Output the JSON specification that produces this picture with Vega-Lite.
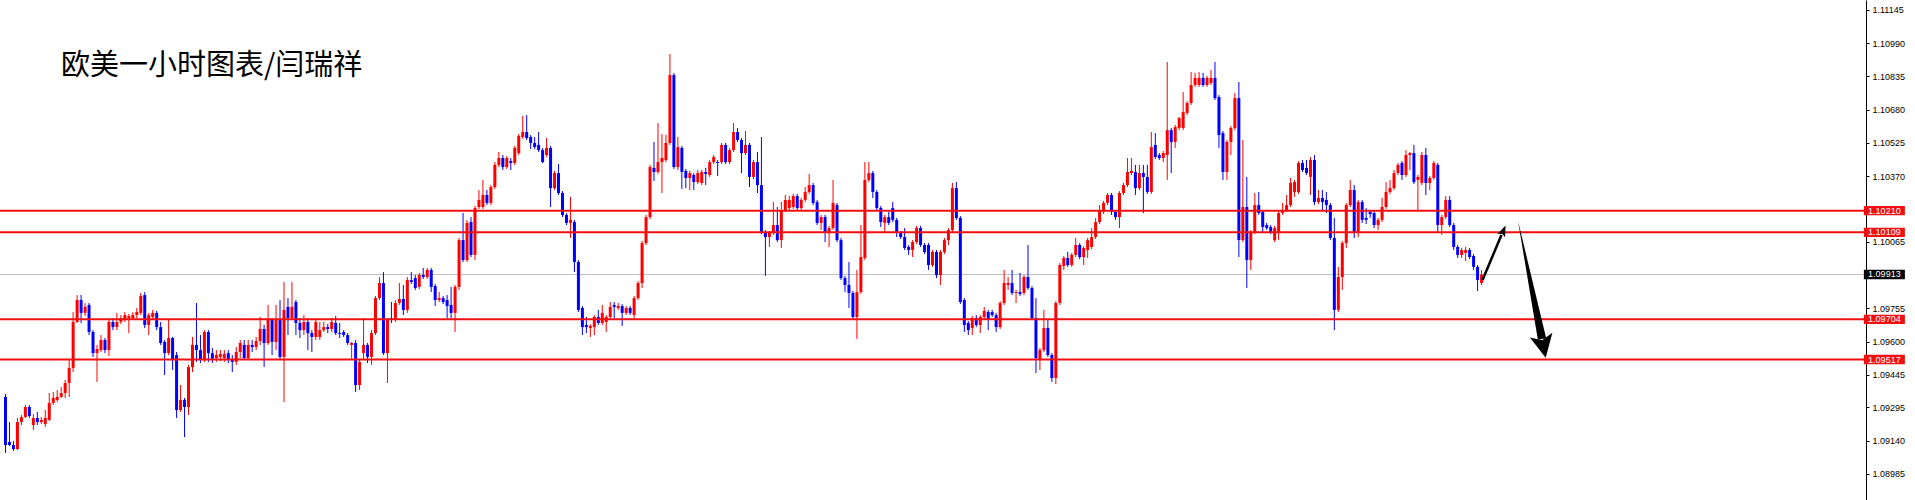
{
"$schema":"https://vega.github.io/schema/vega-lite/v6.json",
"width":1866,"height":500,
"autosize":{"type":"none"},
"padding":{"left":0,"top":0,"right":49,"bottom":0},
"background":"white",
"config":{"view":{"stroke":null}},
"title":{"text":"欧美一小时图表/闫瑞祥","anchor":"start","frame":"group","orient":"top","offset":0,"dx":61,"dy":104,"baseline":"alphabetic","font":"Noto Sans CJK SC","fontSize":29,"fontWeight":"normal","color":"#000000"},
"resolve":{"axis":{"y":"independent"}},
"datasets":{
"candles":[
{"i":0,"o":1.09343,"h":1.09357,"l":1.09082,"c":1.09119},
{"i":1,"o":1.09133,"h":1.09226,"l":1.09114,"c":1.09119},
{"i":2,"o":1.09119,"h":1.09138,"l":1.09091,"c":1.09100},
{"i":3,"o":1.09100,"h":1.09245,"l":1.09096,"c":1.09226},
{"i":4,"o":1.09226,"h":1.09259,"l":1.09212,"c":1.09249},
{"i":5,"o":1.09249,"h":1.09305,"l":1.09245,"c":1.09296},
{"i":6,"o":1.09296,"h":1.09305,"l":1.09245,"c":1.09254},
{"i":7,"o":1.09212,"h":1.09263,"l":1.09189,"c":1.09245},
{"i":8,"o":1.09245,"h":1.09273,"l":1.09212,"c":1.09226},
{"i":9,"o":1.09226,"h":1.09249,"l":1.09217,"c":1.09236},
{"i":10,"o":1.09217,"h":1.09282,"l":1.09203,"c":1.09245},
{"i":11,"o":1.09236,"h":1.09361,"l":1.09231,"c":1.09315},
{"i":12,"o":1.09315,"h":1.09366,"l":1.09305,"c":1.09338},
{"i":13,"o":1.09329,"h":1.09375,"l":1.09319,"c":1.09343},
{"i":14,"o":1.09343,"h":1.09389,"l":1.09338,"c":1.09361},
{"i":15,"o":1.09361,"h":1.09422,"l":1.09338,"c":1.09408},
{"i":16,"o":1.09408,"h":1.09515,"l":1.09343,"c":1.09478},
{"i":17,"o":1.09478,"h":1.09738,"l":1.09459,"c":1.09692},
{"i":18,"o":1.09692,"h":1.09817,"l":1.09687,"c":1.09794},
{"i":19,"o":1.09794,"h":1.09817,"l":1.09687,"c":1.09734},
{"i":20,"o":1.09734,"h":1.09780,"l":1.09720,"c":1.09762},
{"i":21,"o":1.09771,"h":1.09780,"l":1.09631,"c":1.09645},
{"i":22,"o":1.09645,"h":1.09654,"l":1.09529,"c":1.09547},
{"i":23,"o":1.09547,"h":1.09585,"l":1.09413,"c":1.09566},
{"i":24,"o":1.09561,"h":1.09631,"l":1.09552,"c":1.09608},
{"i":25,"o":1.09608,"h":1.09617,"l":1.09547,"c":1.09561},
{"i":26,"o":1.09561,"h":1.09701,"l":1.09533,"c":1.09692},
{"i":27,"o":1.09692,"h":1.09710,"l":1.09654,"c":1.09668},
{"i":28,"o":1.09668,"h":1.09734,"l":1.09654,"c":1.09692},
{"i":29,"o":1.09692,"h":1.09724,"l":1.09682,"c":1.09710},
{"i":30,"o":1.09701,"h":1.09738,"l":1.09692,"c":1.09724},
{"i":31,"o":1.09710,"h":1.09729,"l":1.09640,"c":1.09720},
{"i":32,"o":1.09710,"h":1.09738,"l":1.09701,"c":1.09724},
{"i":33,"o":1.09724,"h":1.09757,"l":1.09710,"c":1.09738},
{"i":34,"o":1.09734,"h":1.09827,"l":1.09724,"c":1.09813},
{"i":35,"o":1.09817,"h":1.09831,"l":1.09664,"c":1.09678},
{"i":36,"o":1.09678,"h":1.09734,"l":1.09631,"c":1.09724},
{"i":37,"o":1.09715,"h":1.09748,"l":1.09701,"c":1.09734},
{"i":38,"o":1.09734,"h":1.09743,"l":1.09654,"c":1.09668},
{"i":39,"o":1.09668,"h":1.09692,"l":1.09585,"c":1.09594},
{"i":40,"o":1.09599,"h":1.09608,"l":1.09445,"c":1.09547},
{"i":41,"o":1.09547,"h":1.09701,"l":1.09538,"c":1.09617},
{"i":42,"o":1.09617,"h":1.09622,"l":1.09468,"c":1.09515},
{"i":43,"o":1.09538,"h":1.09552,"l":1.09245,"c":1.09282},
{"i":44,"o":1.09282,"h":1.09398,"l":1.09273,"c":1.09329},
{"i":45,"o":1.09329,"h":1.09338,"l":1.09156,"c":1.09296},
{"i":46,"o":1.09296,"h":1.09492,"l":1.09259,"c":1.09482},
{"i":47,"o":1.09482,"h":1.09622,"l":1.09459,"c":1.09585},
{"i":48,"o":1.09585,"h":1.09780,"l":1.09506,"c":1.09561},
{"i":49,"o":1.09561,"h":1.09631,"l":1.09501,"c":1.09515},
{"i":50,"o":1.09515,"h":1.09654,"l":1.09506,"c":1.09645},
{"i":51,"o":1.09645,"h":1.09654,"l":1.09506,"c":1.09547},
{"i":52,"o":1.09547,"h":1.09571,"l":1.09501,"c":1.09519},
{"i":53,"o":1.09524,"h":1.09561,"l":1.09506,"c":1.09538},
{"i":54,"o":1.09529,"h":1.09561,"l":1.09510,"c":1.09543},
{"i":55,"o":1.09524,"h":1.09561,"l":1.09506,"c":1.09543},
{"i":56,"o":1.09547,"h":1.09561,"l":1.09501,"c":1.09515},
{"i":57,"o":1.09515,"h":1.09538,"l":1.09459,"c":1.09506},
{"i":58,"o":1.09506,"h":1.09575,"l":1.09492,"c":1.09552},
{"i":59,"o":1.09552,"h":1.09608,"l":1.09524,"c":1.09594},
{"i":60,"o":1.09585,"h":1.09608,"l":1.09515,"c":1.09524},
{"i":61,"o":1.09524,"h":1.09608,"l":1.09515,"c":1.09585},
{"i":62,"o":1.09585,"h":1.09608,"l":1.09552,"c":1.09575},
{"i":63,"o":1.09575,"h":1.09622,"l":1.09561,"c":1.09603},
{"i":64,"o":1.09603,"h":1.09715,"l":1.09585,"c":1.09659},
{"i":65,"o":1.09659,"h":1.09678,"l":1.09482,"c":1.09594},
{"i":66,"o":1.09594,"h":1.09771,"l":1.09585,"c":1.09701},
{"i":67,"o":1.09701,"h":1.09710,"l":1.09538,"c":1.09599},
{"i":68,"o":1.09599,"h":1.09771,"l":1.09561,"c":1.09701},
{"i":69,"o":1.09701,"h":1.09794,"l":1.09515,"c":1.09529},
{"i":70,"o":1.09529,"h":1.09878,"l":1.09319,"c":1.09748},
{"i":71,"o":1.09762,"h":1.09803,"l":1.09631,"c":1.09710},
{"i":72,"o":1.09710,"h":1.09878,"l":1.09701,"c":1.09762},
{"i":73,"o":1.09785,"h":1.09794,"l":1.09631,"c":1.09687},
{"i":74,"o":1.09687,"h":1.09710,"l":1.09617,"c":1.09654},
{"i":75,"o":1.09654,"h":1.09724,"l":1.09631,"c":1.09692},
{"i":76,"o":1.09692,"h":1.09710,"l":1.09561,"c":1.09640},
{"i":77,"o":1.09640,"h":1.09654,"l":1.09552,"c":1.09622},
{"i":78,"o":1.09622,"h":1.09701,"l":1.09608,"c":1.09692},
{"i":79,"o":1.09622,"h":1.09692,"l":1.09608,"c":1.09654},
{"i":80,"o":1.09654,"h":1.09692,"l":1.09645,"c":1.09668},
{"i":81,"o":1.09668,"h":1.09682,"l":1.09640,"c":1.09659},
{"i":82,"o":1.09659,"h":1.09710,"l":1.09645,"c":1.09692},
{"i":83,"o":1.09687,"h":1.09720,"l":1.09631,"c":1.09640},
{"i":84,"o":1.09640,"h":1.09687,"l":1.09617,"c":1.09636},
{"i":85,"o":1.09645,"h":1.09654,"l":1.09622,"c":1.09631},
{"i":86,"o":1.09631,"h":1.09640,"l":1.09585,"c":1.09594},
{"i":87,"o":1.09585,"h":1.09599,"l":1.09515,"c":1.09594},
{"i":88,"o":1.09594,"h":1.09608,"l":1.09366,"c":1.09398},
{"i":89,"o":1.09398,"h":1.09515,"l":1.09375,"c":1.09506},
{"i":90,"o":1.09547,"h":1.09710,"l":1.09515,"c":1.09585},
{"i":91,"o":1.09585,"h":1.09594,"l":1.09501,"c":1.09529},
{"i":92,"o":1.09529,"h":1.09654,"l":1.09492,"c":1.09640},
{"i":93,"o":1.09640,"h":1.09813,"l":1.09631,"c":1.09803},
{"i":94,"o":1.09803,"h":1.09901,"l":1.09794,"c":1.09873},
{"i":95,"o":1.09873,"h":1.09924,"l":1.09538,"c":1.09547},
{"i":96,"o":1.09547,"h":1.09710,"l":1.09408,"c":1.09701},
{"i":97,"o":1.09710,"h":1.09785,"l":1.09687,"c":1.09701},
{"i":98,"o":1.09701,"h":1.09794,"l":1.09692,"c":1.09780},
{"i":99,"o":1.09780,"h":1.09873,"l":1.09771,"c":1.09799},
{"i":100,"o":1.09799,"h":1.09864,"l":1.09724,"c":1.09748},
{"i":101,"o":1.09748,"h":1.09901,"l":1.09734,"c":1.09887},
{"i":102,"o":1.09887,"h":1.09924,"l":1.09869,"c":1.09878},
{"i":103,"o":1.09896,"h":1.09910,"l":1.09841,"c":1.09850},
{"i":104,"o":1.09855,"h":1.09920,"l":1.09845,"c":1.09910},
{"i":105,"o":1.09910,"h":1.09943,"l":1.09892,"c":1.09901},
{"i":106,"o":1.09901,"h":1.09943,"l":1.09892,"c":1.09934},
{"i":107,"o":1.09934,"h":1.09943,"l":1.09831,"c":1.09855},
{"i":108,"o":1.09859,"h":1.09869,"l":1.09766,"c":1.09794},
{"i":109,"o":1.09794,"h":1.09831,"l":1.09785,"c":1.09803},
{"i":110,"o":1.09803,"h":1.09813,"l":1.09775,"c":1.09785},
{"i":111,"o":1.09794,"h":1.09817,"l":1.09710,"c":1.09766},
{"i":112,"o":1.09771,"h":1.09855,"l":1.09710,"c":1.09734},
{"i":113,"o":1.09734,"h":1.09864,"l":1.09645,"c":1.09855},
{"i":114,"o":1.09855,"h":1.10083,"l":1.09841,"c":1.10073},
{"i":115,"o":1.10073,"h":1.10199,"l":1.09971,"c":1.09980},
{"i":116,"o":1.09980,"h":1.10167,"l":1.09971,"c":1.10153},
{"i":117,"o":1.10157,"h":1.10180,"l":1.09994,"c":1.10004},
{"i":118,"o":1.10004,"h":1.10232,"l":1.09980,"c":1.10222},
{"i":119,"o":1.10227,"h":1.10306,"l":1.10218,"c":1.10260},
{"i":120,"o":1.10227,"h":1.10353,"l":1.10218,"c":1.10283},
{"i":121,"o":1.10283,"h":1.10306,"l":1.10236,"c":1.10246},
{"i":122,"o":1.10246,"h":1.10329,"l":1.10236,"c":1.10320},
{"i":123,"o":1.10320,"h":1.10436,"l":1.10311,"c":1.10423},
{"i":124,"o":1.10423,"h":1.10483,"l":1.10413,"c":1.10455},
{"i":125,"o":1.10455,"h":1.10469,"l":1.10399,"c":1.10413},
{"i":126,"o":1.10413,"h":1.10464,"l":1.10404,"c":1.10455},
{"i":127,"o":1.10441,"h":1.10455,"l":1.10399,"c":1.10432},
{"i":128,"o":1.10432,"h":1.10511,"l":1.10423,"c":1.10502},
{"i":129,"o":1.10478,"h":1.10567,"l":1.10469,"c":1.10558},
{"i":130,"o":1.10553,"h":1.10651,"l":1.10544,"c":1.10576},
{"i":131,"o":1.10576,"h":1.10655,"l":1.10539,"c":1.10548},
{"i":132,"o":1.10553,"h":1.10562,"l":1.10497,"c":1.10525},
{"i":133,"o":1.10525,"h":1.10553,"l":1.10497,"c":1.10506},
{"i":134,"o":1.10516,"h":1.10576,"l":1.10483,"c":1.10492},
{"i":135,"o":1.10492,"h":1.10502,"l":1.10432,"c":1.10436},
{"i":136,"o":1.10469,"h":1.10548,"l":1.10460,"c":1.10502},
{"i":137,"o":1.10502,"h":1.10511,"l":1.10227,"c":1.10315},
{"i":138,"o":1.10315,"h":1.10395,"l":1.10306,"c":1.10385},
{"i":139,"o":1.10385,"h":1.10427,"l":1.10283,"c":1.10292},
{"i":140,"o":1.10292,"h":1.10301,"l":1.10180,"c":1.10190},
{"i":141,"o":1.10190,"h":1.10199,"l":1.10143,"c":1.10153},
{"i":142,"o":1.10153,"h":1.10274,"l":1.10083,"c":1.10167},
{"i":143,"o":1.10157,"h":1.10167,"l":1.09924,"c":1.09971},
{"i":144,"o":1.09971,"h":1.09980,"l":1.09738,"c":1.09748},
{"i":145,"o":1.09757,"h":1.09766,"l":1.09631,"c":1.09668},
{"i":146,"o":1.09678,"h":1.09715,"l":1.09640,"c":1.09668},
{"i":147,"o":1.09664,"h":1.09682,"l":1.09622,"c":1.09673},
{"i":148,"o":1.09668,"h":1.09724,"l":1.09631,"c":1.09715},
{"i":149,"o":1.09715,"h":1.09748,"l":1.09678,"c":1.09687},
{"i":150,"o":1.09687,"h":1.09771,"l":1.09678,"c":1.09734},
{"i":151,"o":1.09692,"h":1.09724,"l":1.09645,"c":1.09715},
{"i":152,"o":1.09715,"h":1.09785,"l":1.09706,"c":1.09762},
{"i":153,"o":1.09771,"h":1.09785,"l":1.09710,"c":1.09762},
{"i":154,"o":1.09757,"h":1.09780,"l":1.09748,"c":1.09766},
{"i":155,"o":1.09766,"h":1.09775,"l":1.09673,"c":1.09734},
{"i":156,"o":1.09734,"h":1.09766,"l":1.09724,"c":1.09757},
{"i":157,"o":1.09757,"h":1.09766,"l":1.09724,"c":1.09734},
{"i":158,"o":1.09724,"h":1.09813,"l":1.09701,"c":1.09803},
{"i":159,"o":1.09803,"h":1.09883,"l":1.09794,"c":1.09873},
{"i":160,"o":1.09873,"h":1.10069,"l":1.09850,"c":1.10059},
{"i":161,"o":1.10059,"h":1.10190,"l":1.10050,"c":1.10180},
{"i":162,"o":1.10180,"h":1.10423,"l":1.10171,"c":1.10413},
{"i":163,"o":1.10409,"h":1.10530,"l":1.10348,"c":1.10390},
{"i":164,"o":1.10390,"h":1.10618,"l":1.10381,"c":1.10436},
{"i":165,"o":1.10436,"h":1.10567,"l":1.10292,"c":1.10455},
{"i":166,"o":1.10446,"h":1.10562,"l":1.10436,"c":1.10525},
{"i":167,"o":1.10525,"h":1.10939,"l":1.10516,"c":1.10841},
{"i":168,"o":1.10841,"h":1.10851,"l":1.10404,"c":1.10413},
{"i":169,"o":1.10413,"h":1.10553,"l":1.10399,"c":1.10506},
{"i":170,"o":1.10502,"h":1.10511,"l":1.10311,"c":1.10390},
{"i":171,"o":1.10395,"h":1.10404,"l":1.10315,"c":1.10362},
{"i":172,"o":1.10362,"h":1.10395,"l":1.10306,"c":1.10385},
{"i":173,"o":1.10376,"h":1.10385,"l":1.10306,"c":1.10343},
{"i":174,"o":1.10343,"h":1.10399,"l":1.10334,"c":1.10385},
{"i":175,"o":1.10339,"h":1.10399,"l":1.10329,"c":1.10390},
{"i":176,"o":1.10390,"h":1.10409,"l":1.10329,"c":1.10381},
{"i":177,"o":1.10376,"h":1.10446,"l":1.10367,"c":1.10436},
{"i":178,"o":1.10436,"h":1.10469,"l":1.10427,"c":1.10460},
{"i":179,"o":1.10436,"h":1.10446,"l":1.10371,"c":1.10432},
{"i":180,"o":1.10436,"h":1.10525,"l":1.10427,"c":1.10516},
{"i":181,"o":1.10516,"h":1.10525,"l":1.10427,"c":1.10436},
{"i":182,"o":1.10436,"h":1.10502,"l":1.10427,"c":1.10492},
{"i":183,"o":1.10492,"h":1.10618,"l":1.10483,"c":1.10576},
{"i":184,"o":1.10576,"h":1.10595,"l":1.10530,"c":1.10539},
{"i":185,"o":1.10539,"h":1.10548,"l":1.10385,"c":1.10478},
{"i":186,"o":1.10478,"h":1.10581,"l":1.10469,"c":1.10516},
{"i":187,"o":1.10516,"h":1.10525,"l":1.10320,"c":1.10367},
{"i":188,"o":1.10367,"h":1.10446,"l":1.10357,"c":1.10436},
{"i":189,"o":1.10436,"h":1.10483,"l":1.10292,"c":1.10329},
{"i":190,"o":1.10329,"h":1.10553,"l":1.10101,"c":1.10111},
{"i":191,"o":1.10111,"h":1.10120,"l":1.09906,"c":1.10087},
{"i":192,"o":1.10087,"h":1.10115,"l":1.10041,"c":1.10106},
{"i":193,"o":1.10106,"h":1.10250,"l":1.10097,"c":1.10143},
{"i":194,"o":1.10143,"h":1.10227,"l":1.10064,"c":1.10073},
{"i":195,"o":1.10073,"h":1.10250,"l":1.10036,"c":1.10213},
{"i":196,"o":1.10213,"h":1.10283,"l":1.10204,"c":1.10260},
{"i":197,"o":1.10222,"h":1.10278,"l":1.10213,"c":1.10260},
{"i":198,"o":1.10227,"h":1.10288,"l":1.10218,"c":1.10278},
{"i":199,"o":1.10278,"h":1.10288,"l":1.10213,"c":1.10222},
{"i":200,"o":1.10222,"h":1.10269,"l":1.10213,"c":1.10260},
{"i":201,"o":1.10260,"h":1.10320,"l":1.10250,"c":1.10297},
{"i":202,"o":1.10297,"h":1.10381,"l":1.10288,"c":1.10329},
{"i":203,"o":1.10329,"h":1.10339,"l":1.10236,"c":1.10246},
{"i":204,"o":1.10250,"h":1.10260,"l":1.10143,"c":1.10153},
{"i":205,"o":1.10153,"h":1.10190,"l":1.10120,"c":1.10180},
{"i":206,"o":1.10180,"h":1.10190,"l":1.10064,"c":1.10111},
{"i":207,"o":1.10111,"h":1.10139,"l":1.10041,"c":1.10129},
{"i":208,"o":1.10129,"h":1.10353,"l":1.10120,"c":1.10246},
{"i":209,"o":1.10236,"h":1.10246,"l":1.10064,"c":1.10073},
{"i":210,"o":1.10073,"h":1.10083,"l":1.09887,"c":1.09896},
{"i":211,"o":1.09896,"h":1.09906,"l":1.09831,"c":1.09864},
{"i":212,"o":1.09864,"h":1.09971,"l":1.09757,"c":1.09827},
{"i":213,"o":1.09827,"h":1.09836,"l":1.09706,"c":1.09715},
{"i":214,"o":1.09715,"h":1.09934,"l":1.09613,"c":1.09831},
{"i":215,"o":1.09831,"h":1.10143,"l":1.09822,"c":1.09994},
{"i":216,"o":1.09990,"h":1.10436,"l":1.09980,"c":1.10353},
{"i":217,"o":1.10353,"h":1.10436,"l":1.10343,"c":1.10385},
{"i":218,"o":1.10385,"h":1.10395,"l":1.10269,"c":1.10297},
{"i":219,"o":1.10297,"h":1.10306,"l":1.10213,"c":1.10222},
{"i":220,"o":1.10222,"h":1.10232,"l":1.10134,"c":1.10157},
{"i":221,"o":1.10153,"h":1.10190,"l":1.10111,"c":1.10180},
{"i":222,"o":1.10180,"h":1.10204,"l":1.10143,"c":1.10153},
{"i":223,"o":1.10222,"h":1.10250,"l":1.10157,"c":1.10167},
{"i":224,"o":1.10167,"h":1.10176,"l":1.10087,"c":1.10106},
{"i":225,"o":1.10106,"h":1.10115,"l":1.10078,"c":1.10087},
{"i":226,"o":1.10087,"h":1.10129,"l":1.10027,"c":1.10036},
{"i":227,"o":1.10041,"h":1.10050,"l":1.10004,"c":1.10027},
{"i":228,"o":1.10027,"h":1.10073,"l":1.09994,"c":1.10064},
{"i":229,"o":1.10064,"h":1.10139,"l":1.10055,"c":1.10129},
{"i":230,"o":1.10129,"h":1.10139,"l":1.10041,"c":1.10050},
{"i":231,"o":1.10050,"h":1.10059,"l":1.10008,"c":1.10018},
{"i":232,"o":1.10050,"h":1.10059,"l":1.09934,"c":1.09957},
{"i":233,"o":1.09957,"h":1.10027,"l":1.09948,"c":1.10018},
{"i":234,"o":1.10018,"h":1.10027,"l":1.09896,"c":1.09910},
{"i":235,"o":1.09910,"h":1.10027,"l":1.09864,"c":1.10018},
{"i":236,"o":1.10018,"h":1.10083,"l":1.10008,"c":1.10073},
{"i":237,"o":1.10073,"h":1.10129,"l":1.10050,"c":1.10120},
{"i":238,"o":1.10120,"h":1.10339,"l":1.10111,"c":1.10315},
{"i":239,"o":1.10315,"h":1.10343,"l":1.10167,"c":1.10176},
{"i":240,"o":1.10176,"h":1.10185,"l":1.09775,"c":1.09785},
{"i":241,"o":1.09794,"h":1.09803,"l":1.09645,"c":1.09678},
{"i":242,"o":1.09687,"h":1.09696,"l":1.09631,"c":1.09654},
{"i":243,"o":1.09664,"h":1.09720,"l":1.09631,"c":1.09710},
{"i":244,"o":1.09710,"h":1.09724,"l":1.09668,"c":1.09678},
{"i":245,"o":1.09678,"h":1.09724,"l":1.09640,"c":1.09715},
{"i":246,"o":1.09715,"h":1.09762,"l":1.09706,"c":1.09743},
{"i":247,"o":1.09738,"h":1.09748,"l":1.09654,"c":1.09701},
{"i":248,"o":1.09738,"h":1.09748,"l":1.09715,"c":1.09724},
{"i":249,"o":1.09724,"h":1.09734,"l":1.09645,"c":1.09668},
{"i":250,"o":1.09668,"h":1.09789,"l":1.09659,"c":1.09780},
{"i":251,"o":1.09780,"h":1.09934,"l":1.09771,"c":1.09873},
{"i":252,"o":1.09864,"h":1.09901,"l":1.09841,"c":1.09873},
{"i":253,"o":1.09873,"h":1.09934,"l":1.09817,"c":1.09827},
{"i":254,"o":1.09827,"h":1.09841,"l":1.09780,"c":1.09831},
{"i":255,"o":1.09831,"h":1.09920,"l":1.09813,"c":1.09822},
{"i":256,"o":1.09827,"h":1.09910,"l":1.09817,"c":1.09901},
{"i":257,"o":1.09901,"h":1.10050,"l":1.09841,"c":1.09850},
{"i":258,"o":1.09850,"h":1.09859,"l":1.09701,"c":1.09710},
{"i":259,"o":1.09710,"h":1.09803,"l":1.09454,"c":1.09524},
{"i":260,"o":1.09515,"h":1.09571,"l":1.09468,"c":1.09561},
{"i":261,"o":1.09561,"h":1.09748,"l":1.09552,"c":1.09664},
{"i":262,"o":1.09664,"h":1.09701,"l":1.09529,"c":1.09538},
{"i":263,"o":1.09538,"h":1.09547,"l":1.09413,"c":1.09431},
{"i":264,"o":1.09431,"h":1.09789,"l":1.09403,"c":1.09780},
{"i":265,"o":1.09780,"h":1.09966,"l":1.09771,"c":1.09957},
{"i":266,"o":1.09952,"h":1.09999,"l":1.09934,"c":1.09990},
{"i":267,"o":1.09990,"h":1.10018,"l":1.09948,"c":1.09957},
{"i":268,"o":1.09957,"h":1.10013,"l":1.09948,"c":1.10004},
{"i":269,"o":1.10004,"h":1.10083,"l":1.09994,"c":1.10050},
{"i":270,"o":1.10050,"h":1.10059,"l":1.09985,"c":1.09994},
{"i":271,"o":1.09994,"h":1.10045,"l":1.09957,"c":1.10036},
{"i":272,"o":1.10027,"h":1.10083,"l":1.09990,"c":1.10073},
{"i":273,"o":1.10041,"h":1.10129,"l":1.10031,"c":1.10087},
{"i":274,"o":1.10087,"h":1.10176,"l":1.10078,"c":1.10157},
{"i":275,"o":1.10157,"h":1.10236,"l":1.10148,"c":1.10213},
{"i":276,"o":1.10204,"h":1.10255,"l":1.10194,"c":1.10246},
{"i":277,"o":1.10246,"h":1.10292,"l":1.10236,"c":1.10283},
{"i":278,"o":1.10283,"h":1.10292,"l":1.10190,"c":1.10204},
{"i":279,"o":1.10204,"h":1.10213,"l":1.10167,"c":1.10180},
{"i":280,"o":1.10180,"h":1.10301,"l":1.10129,"c":1.10292},
{"i":281,"o":1.10292,"h":1.10339,"l":1.10283,"c":1.10329},
{"i":282,"o":1.10329,"h":1.10455,"l":1.10320,"c":1.10390},
{"i":283,"o":1.10385,"h":1.10455,"l":1.10376,"c":1.10395},
{"i":284,"o":1.10390,"h":1.10423,"l":1.10283,"c":1.10315},
{"i":285,"o":1.10315,"h":1.10423,"l":1.10306,"c":1.10385},
{"i":286,"o":1.10385,"h":1.10423,"l":1.10199,"c":1.10367},
{"i":287,"o":1.10367,"h":1.10423,"l":1.10288,"c":1.10297},
{"i":288,"o":1.10297,"h":1.10576,"l":1.10288,"c":1.10506},
{"i":289,"o":1.10516,"h":1.10571,"l":1.10450,"c":1.10460},
{"i":290,"o":1.10469,"h":1.10478,"l":1.10446,"c":1.10455},
{"i":291,"o":1.10455,"h":1.10488,"l":1.10436,"c":1.10478},
{"i":292,"o":1.10469,"h":1.10902,"l":1.10353,"c":1.10585},
{"i":293,"o":1.10585,"h":1.10595,"l":1.10385,"c":1.10530},
{"i":294,"o":1.10530,"h":1.10609,"l":1.10502,"c":1.10599},
{"i":295,"o":1.10595,"h":1.10646,"l":1.10585,"c":1.10641},
{"i":296,"o":1.10595,"h":1.10762,"l":1.10585,"c":1.10669},
{"i":297,"o":1.10665,"h":1.10720,"l":1.10655,"c":1.10711},
{"i":298,"o":1.10711,"h":1.10855,"l":1.10702,"c":1.10795},
{"i":299,"o":1.10795,"h":1.10851,"l":1.10786,"c":1.10828},
{"i":300,"o":1.10795,"h":1.10855,"l":1.10786,"c":1.10828},
{"i":301,"o":1.10828,"h":1.10851,"l":1.10786,"c":1.10795},
{"i":302,"o":1.10795,"h":1.10837,"l":1.10786,"c":1.10828},
{"i":303,"o":1.10804,"h":1.10865,"l":1.10795,"c":1.10828},
{"i":304,"o":1.10828,"h":1.10902,"l":1.10725,"c":1.10734},
{"i":305,"o":1.10739,"h":1.10748,"l":1.10502,"c":1.10562},
{"i":306,"o":1.10571,"h":1.10581,"l":1.10353,"c":1.10390},
{"i":307,"o":1.10390,"h":1.10539,"l":1.10353,"c":1.10530},
{"i":308,"o":1.10530,"h":1.10604,"l":1.10469,"c":1.10595},
{"i":309,"o":1.10595,"h":1.10758,"l":1.10585,"c":1.10734},
{"i":310,"o":1.10734,"h":1.10809,"l":1.09994,"c":1.10073},
{"i":311,"o":1.10073,"h":1.10539,"l":1.10064,"c":1.10227},
{"i":312,"o":1.10227,"h":1.10367,"l":1.09850,"c":1.09980},
{"i":313,"o":1.09980,"h":1.10120,"l":1.09934,"c":1.10111},
{"i":314,"o":1.10111,"h":1.10292,"l":1.10101,"c":1.10236},
{"i":315,"o":1.10236,"h":1.10297,"l":1.10190,"c":1.10199},
{"i":316,"o":1.10204,"h":1.10213,"l":1.10106,"c":1.10134},
{"i":317,"o":1.10143,"h":1.10153,"l":1.10120,"c":1.10129},
{"i":318,"o":1.10134,"h":1.10143,"l":1.10101,"c":1.10111},
{"i":319,"o":1.10073,"h":1.10139,"l":1.10064,"c":1.10129},
{"i":320,"o":1.10106,"h":1.10208,"l":1.10073,"c":1.10199},
{"i":321,"o":1.10199,"h":1.10246,"l":1.10190,"c":1.10213},
{"i":322,"o":1.10213,"h":1.10283,"l":1.10204,"c":1.10236},
{"i":323,"o":1.10236,"h":1.10362,"l":1.10227,"c":1.10339},
{"i":324,"o":1.10297,"h":1.10353,"l":1.10274,"c":1.10343},
{"i":325,"o":1.10297,"h":1.10441,"l":1.10288,"c":1.10432},
{"i":326,"o":1.10432,"h":1.10446,"l":1.10390,"c":1.10399},
{"i":327,"o":1.10409,"h":1.10446,"l":1.10376,"c":1.10385},
{"i":328,"o":1.10367,"h":1.10460,"l":1.10283,"c":1.10446},
{"i":329,"o":1.10446,"h":1.10469,"l":1.10236,"c":1.10250},
{"i":330,"o":1.10250,"h":1.10306,"l":1.10241,"c":1.10269},
{"i":331,"o":1.10269,"h":1.10306,"l":1.10213,"c":1.10250},
{"i":332,"o":1.10260,"h":1.10297,"l":1.10199,"c":1.10236},
{"i":333,"o":1.10236,"h":1.10246,"l":1.10073,"c":1.10083},
{"i":334,"o":1.10083,"h":1.10176,"l":1.09654,"c":1.09748},
{"i":335,"o":1.09748,"h":1.09948,"l":1.09738,"c":1.09901},
{"i":336,"o":1.09901,"h":1.10069,"l":1.09841,"c":1.10059},
{"i":337,"o":1.10059,"h":1.10246,"l":1.10036,"c":1.10236},
{"i":338,"o":1.10236,"h":1.10353,"l":1.10227,"c":1.10306},
{"i":339,"o":1.10306,"h":1.10329,"l":1.10083,"c":1.10106},
{"i":340,"o":1.10106,"h":1.10260,"l":1.10087,"c":1.10250},
{"i":341,"o":1.10250,"h":1.10260,"l":1.10153,"c":1.10167},
{"i":342,"o":1.10176,"h":1.10222,"l":1.10148,"c":1.10167},
{"i":343,"o":1.10204,"h":1.10213,"l":1.10176,"c":1.10194},
{"i":344,"o":1.10199,"h":1.10208,"l":1.10129,"c":1.10143},
{"i":345,"o":1.10143,"h":1.10176,"l":1.10120,"c":1.10167},
{"i":346,"o":1.10167,"h":1.10269,"l":1.10157,"c":1.10227},
{"i":347,"o":1.10227,"h":1.10343,"l":1.10218,"c":1.10297},
{"i":348,"o":1.10297,"h":1.10353,"l":1.10288,"c":1.10315},
{"i":349,"o":1.10315,"h":1.10399,"l":1.10306,"c":1.10385},
{"i":350,"o":1.10385,"h":1.10432,"l":1.10376,"c":1.10423},
{"i":351,"o":1.10432,"h":1.10441,"l":1.10353,"c":1.10376},
{"i":352,"o":1.10376,"h":1.10492,"l":1.10367,"c":1.10469},
{"i":353,"o":1.10469,"h":1.10483,"l":1.10399,"c":1.10478},
{"i":354,"o":1.10478,"h":1.10516,"l":1.10334,"c":1.10343},
{"i":355,"o":1.10353,"h":1.10376,"l":1.10213,"c":1.10367},
{"i":356,"o":1.10339,"h":1.10483,"l":1.10329,"c":1.10469},
{"i":357,"o":1.10469,"h":1.10502,"l":1.10283,"c":1.10339},
{"i":358,"o":1.10339,"h":1.10371,"l":1.10306,"c":1.10362},
{"i":359,"o":1.10362,"h":1.10441,"l":1.10353,"c":1.10432},
{"i":360,"o":1.10423,"h":1.10432,"l":1.10111,"c":1.10143},
{"i":361,"o":1.10143,"h":1.10190,"l":1.10097,"c":1.10180},
{"i":362,"o":1.10180,"h":1.10278,"l":1.10171,"c":1.10260},
{"i":363,"o":1.10260,"h":1.10278,"l":1.10134,"c":1.10143},
{"i":364,"o":1.10143,"h":1.10153,"l":1.10027,"c":1.10041},
{"i":365,"o":1.10041,"h":1.10050,"l":1.09990,"c":1.10004},
{"i":366,"o":1.10004,"h":1.10036,"l":1.09990,"c":1.10027},
{"i":367,"o":1.10013,"h":1.10041,"l":1.09976,"c":1.10027},
{"i":368,"o":1.10027,"h":1.10036,"l":1.09985,"c":1.09994},
{"i":369,"o":1.09999,"h":1.10008,"l":1.09934,"c":1.09948},
{"i":370,"o":1.09948,"h":1.09957,"l":1.09836,"c":1.09887},
{"i":371,"o":1.09873,"h":1.09934,"l":1.09864,"c":1.09913}
],
"levels":[{"p":1.1021,"k":"level"},{"p":1.10109,"k":"level"},{"p":1.09704,"k":"level"},{"p":1.09517,"k":"level"}],
"current":[{"p":1.09913,"k":"current"}],
"tags":[{"p":1.1021,"k":"level"},{"p":1.10109,"k":"level"},{"p":1.09704,"k":"level"},{"p":1.09517,"k":"level"},{"p":1.09913,"k":"current"}]
},
"layer":[
{"data":{"name":"current"},"mark":{"type":"rule","color":"#C0C0C0","strokeWidth":1},
 "encoding":{"y":{"field":"p","type":"quantitative","scale":{"domain":[1.088631,1.111906],"zero":false,"nice":false},
   "axis":{"orient":"right","title":null,"values":[1.11145,1.1099,1.10835,1.1068,1.10525,1.1037,1.10065,1.09755,1.096,1.09445,1.09295,1.0914,1.08985],"format":".5f","grid":false,"domain":true,"domainColor":"#000000","domainWidth":1,"ticks":true,"tickColor":"#000000","tickSize":3,"labelPadding":3,"labelFont":"Liberation Sans","labelFontSize":9,"labelColor":"#000000","labelOverlap":false,"labelBound":false,"labelFlush":false}}}},
{"data":{"name":"candles"},"mark":{"type":"rule","strokeWidth":1},
 "encoding":{
  "x":{"field":"i","type":"quantitative","scale":{"domain":[0,466.5],"range":[0.5,1866.5],"zero":false,"nice":false},"axis":null},
  "y":{"field":"h","type":"quantitative","scale":{"domain":[1.088631,1.111906],"zero":false,"nice":false},"axis":null},
  "y2":{"field":"l"},
  "color":{"condition":{"test":"datum.c > datum.o","value":"#FF0000"},"value":"#0000FF"}}},
{"data":{"name":"candles"},"mark":{"type":"bar","width":3},
 "encoding":{
  "x":{"field":"i","type":"quantitative","scale":{"domain":[0,466.5],"range":[0.5,1866.5],"zero":false,"nice":false},"axis":null},
  "y":{"field":"o","type":"quantitative","scale":{"domain":[1.088631,1.111906],"zero":false,"nice":false},"axis":null},
  "y2":{"field":"c"},
  "color":{"condition":{"test":"datum.c > datum.o","value":"#FF0000"},"value":"#0000FF"}}},
{"data":{"name":"levels"},"mark":{"type":"rule","color":"#F01010","strokeWidth":2},
 "encoding":{"y":{"field":"p","type":"quantitative","scale":{"domain":[1.088631,1.111906],"zero":false,"nice":false},"axis":null}}},
{"data":{"name":"tags"},"mark":{"type":"point","shape":"M-1,-0.23L1,-0.23L1,0.23L-1,0.23Z","size":1681,"filled":true,"opacity":1,"strokeWidth":0},
 "encoding":{"x":{"datum":472.25,"type":"quantitative","scale":{"domain":[0,466.5],"range":[0.5,1866.5],"zero":false,"nice":false},"axis":null},
  "y":{"field":"p","type":"quantitative","scale":{"domain":[1.088631,1.111906],"zero":false,"nice":false},"axis":null},
  "color":{"condition":{"test":"datum.k == 'current'","value":"#000000"},"value":"#F01010"}}},
{"data":{"name":"tags"},"mark":{"type":"text","align":"center","baseline":"middle","font":"Liberation Sans","fontSize":9,"color":"#FFFFFF"},
 "encoding":{"x":{"datum":472.25,"type":"quantitative","scale":{"domain":[0,466.5],"range":[0.5,1866.5],"zero":false,"nice":false},"axis":null},
  "y":{"field":"p","type":"quantitative","scale":{"domain":[1.088631,1.111906],"zero":false,"nice":false},"axis":null},
  "text":{"field":"p","type":"quantitative","format":".5f"}}},
{"data":{"values":[{"x1":371.25,"y1":1.09887,"x2":376.0,"y2":1.10097}]},"mark":{"type":"rule","color":"#000000","strokeWidth":2.5},
 "encoding":{"x":{"field":"x1","type":"quantitative","scale":{"domain":[0,466.5],"range":[0.5,1866.5],"zero":false,"nice":false},"axis":null},
  "x2":{"field":"x2"},
  "y":{"field":"y1","type":"quantitative","scale":{"domain":[1.088631,1.111906],"zero":false,"nice":false},"axis":null},
  "y2":{"field":"y2"}}},
{"data":{"values":[{"x":376.5,"p":1.10117}]},"mark":{"type":"point","shape":"M0,-1L0.75,1L0,0.6L-0.75,1Z","size":121,"angle":23,"filled":true,"opacity":1,"color":"#000000","strokeWidth":0},
 "encoding":{"x":{"field":"x","type":"quantitative","scale":{"domain":[0,466.5],"range":[0.5,1866.5],"zero":false,"nice":false},"axis":null},
  "y":{"field":"p","type":"quantitative","scale":{"domain":[1.088631,1.111906],"zero":false,"nice":false},"axis":null}}},
{"data":{"values":[{"x":383.18,"p":1.09888}]},"mark":{"type":"point","shape":"M0,-1L0.07,1L-0.07,1Z","size":14570,"angle":348.5,"filled":true,"opacity":1,"color":"#000000","strokeWidth":0},
 "encoding":{"x":{"field":"x","type":"quantitative","scale":{"domain":[0,466.5],"range":[0.5,1866.5],"zero":false,"nice":false},"axis":null},
  "y":{"field":"p","type":"quantitative","scale":{"domain":[1.088631,1.111906],"zero":false,"nice":false},"axis":null}}},
{"data":{"values":[{"x":386.55,"p":1.09578}]},"mark":{"type":"point","shape":"M0,-1L1,1L0,0.55L-1,1Z","size":529,"angle":168.5,"filled":true,"opacity":1,"color":"#000000","strokeWidth":0},
 "encoding":{"x":{"field":"x","type":"quantitative","scale":{"domain":[0,466.5],"range":[0.5,1866.5],"zero":false,"nice":false},"axis":null},
  "y":{"field":"p","type":"quantitative","scale":{"domain":[1.088631,1.111906],"zero":false,"nice":false},"axis":null}}}
]
}
